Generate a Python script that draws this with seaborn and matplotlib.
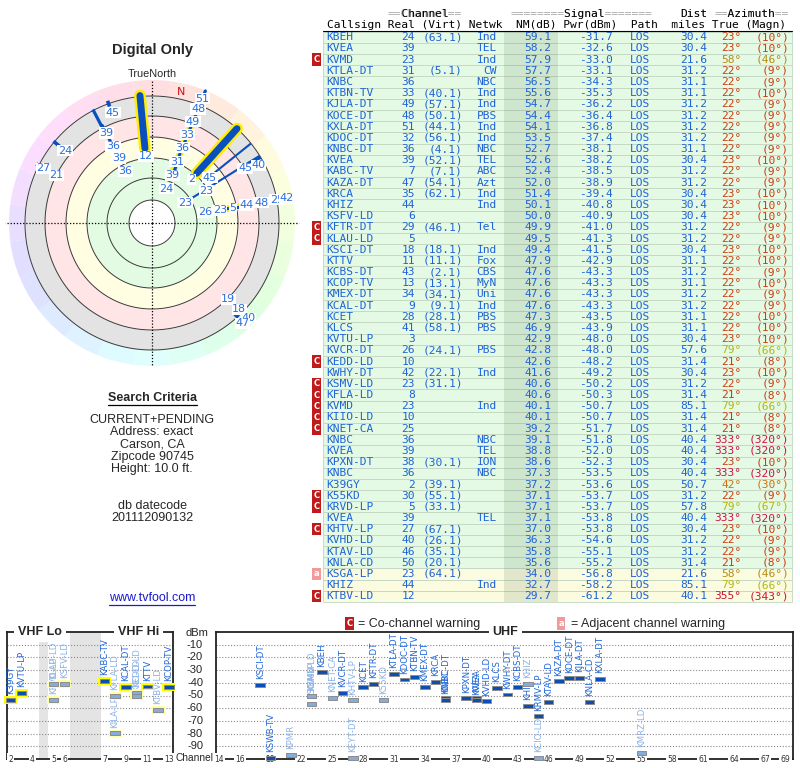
import colorsys
import numpy as np
import pandas as pd
import matplotlib
matplotlib.use("Agg")
import matplotlib.pyplot as plt
import matplotlib.transforms as mtransforms
from matplotlib.path import Path
import seaborn as sns

# ---------------- station table ----------------
callsign = ["KBEH", "KVEA", "KVMD", "KTLA-DT", "KNBC", "KTBN-TV", "KJLA-DT", "KOCE-DT", "KXLA-DT",
            "KDOC-DT", "KNBC-DT", "KVEA", "KABC-TV", "KAZA-DT", "KRCA", "KHIZ", "KSFV-LD",
            "KFTR-DT", "KLAU-LD", "KSCI-DT", "KTTV", "KCBS-DT", "KCOP-TV", "KMEX-DT", "KCAL-DT",
            "KCET", "KLCS", "KVTU-LP", "KVCR-DT", "KEDD-LD", "KWHY-DT", "KSMV-LD", "KFLA-LD",
            "KVMD", "KIIO-LD", "KNET-CA", "KNBC", "KVEA", "KPXN-DT", "KNBC", "K39GY", "K55KD",
            "KRVD-LP", "KVEA", "KHTV-LP", "KVHD-LD", "KTAV-LD", "KNLA-CD", "KSGA-LP", "KHIZ",
            "KTBV-LD"]
real_ch = [24, 39, 23, 31, 36, 33, 49, 48, 51, 32, 36, 39, 7, 47, 35, 44, 6, 29, 5, 18, 11, 43,
           13, 34, 9, 28, 41, 3, 26, 10, 42, 23, 8, 23, 10, 25, 36, 39, 38, 36, 2, 30, 5, 39,
           27, 40, 46, 50, 23, 44, 12]
virt_ch = ["63.1", "", "", "5.1", "", "40.1", "57.1", "50.1", "44.1", "56.1", "4.1", "52.1",
           "7.1", "54.1", "62.1", "", "", "46.1", "", "18.1", "11.1", "2.1", "13.1", "34.1",
           "9.1", "28.1", "58.1", "", "24.1", "", "22.1", "31.1", "", "", "", "", "", "",
           "30.1", "", "39.1", "55.1", "33.1", "", "67.1", "26.1", "35.1", "20.1", "64.1", "", ""]
netwk = ["Ind", "TEL", "Ind", "CW", "NBC", "Ind", "Ind", "PBS", "Ind", "Ind", "NBC", "TEL",
         "ABC", "Azt", "Ind", "Ind", "", "Tel", "", "Ind", "Fox", "CBS", "MyN", "Uni", "Ind",
         "PBS", "PBS", "", "PBS", "", "Ind", "", "", "Ind", "", "", "NBC", "TEL", "ION", "NBC",
         "", "", "", "TEL", "", "", "", "", "", "Ind", ""]
nm_db = [59.1, 58.2, 57.9, 57.7, 56.5, 55.6, 54.7, 54.4, 54.1, 53.5, 52.7, 52.6, 52.4, 52.0,
         51.4, 50.1, 50.0, 49.9, 49.5, 49.4, 47.9, 47.6, 47.6, 47.6, 47.6, 47.3, 46.9, 42.9,
         42.8, 42.6, 41.6, 40.6, 40.6, 40.1, 40.1, 39.2, 39.1, 38.8, 38.6, 37.3, 37.2, 37.1,
         37.1, 37.1, 37.0, 36.3, 35.8, 35.6, 34.0, 32.7, 29.7]
pwr_dbm = [-31.7, -32.6, -33.0, -33.1, -34.3, -35.3, -36.2, -36.4, -36.8, -37.4, -38.1, -38.2,
           -38.5, -38.9, -39.4, -40.8, -40.9, -41.0, -41.3, -41.5, -42.9, -43.3, -43.3, -43.3,
           -43.3, -43.5, -43.9, -48.0, -48.0, -48.2, -49.2, -50.2, -50.3, -50.7, -50.7, -51.7,
           -51.8, -52.0, -52.3, -53.5, -53.6, -53.7, -53.7, -53.8, -53.8, -54.6, -55.1, -55.2,
           -56.8, -58.2, -61.2]
dist_mi = [30.4, 30.4, 21.6, 31.2, 31.1, 31.1, 31.2, 31.2, 31.2, 31.2, 31.1, 30.4, 31.2, 31.2,
           30.4, 30.4, 30.4, 31.2, 31.2, 30.4, 31.1, 31.2, 31.1, 31.2, 31.2, 31.1, 31.1, 30.4,
           57.6, 31.4, 30.4, 31.2, 31.4, 85.1, 31.4, 31.4, 40.4, 40.4, 30.4, 40.4, 50.7, 31.2,
           57.8, 40.4, 30.4, 31.2, 31.2, 31.4, 21.6, 85.1, 40.1]
az_true = [23, 23, 58, 22, 22, 22, 22, 22, 22, 22, 22, 23, 22, 22, 23, 23, 23, 22, 22, 23, 22,
           22, 22, 22, 22, 22, 22, 23, 79, 21, 23, 22, 21, 79, 21, 21, 333, 333, 23, 333, 42,
           22, 79, 333, 23, 22, 22, 21, 58, 79, 355]
az_magn = [10, 10, 46, 9, 9, 10, 9, 9, 9, 9, 9, 10, 9, 9, 10, 10, 10, 9, 9, 10, 10, 9, 10, 9,
           9, 10, 10, 10, 66, 8, 10, 9, 8, 66, 8, 8, 320, 320, 10, 320, 30, 9, 67, 320, 10, 9,
           9, 8, 46, 66, 343]
warning = ["", "", "C", "", "", "", "", "", "", "", "", "", "", "", "", "", "", "C", "C", "",
           "", "", "", "", "", "", "", "", "", "C", "", "C", "C", "C", "C", "C", "", "", "", "",
           "", "C", "C", "", "C", "", "", "", "a", "", "C"]

# ---------------- spectrum (VHF / UHF) ----------------
vhf_call = ["K39GY", "KVTU-LP", "KRVD-LP", "KLAU-LD", "KSFV-LD", "KABC-TV", "KFLA-LD",
            "KILA-LP", "KCAL-DT", "KEDD-LD", "KIIO-LD", "KTTV", "KTBV-LD", "KCOP-TV"]
vhf_ch = [2, 3, 5, 5, 6, 7, 8, 8, 9, 10, 10, 11, 12, 13]
vhf_dbm = [-53.6, -48.0, -53.7, -41.3, -40.9, -38.5, -50.3, -79.8, -43.3, -48.2, -50.7, -42.9,
           -61.2, -43.3]
vhf_faded = [0, 0, 1, 1, 1, 0, 1, 1, 0, 1, 1, 0, 1, 0]

uhf_call = ["KSCI-DT", "KSWB-TV", "KPMR", "KSGA-LP", "KSMV-LD", "KVMD", "KBEH", "KNET-CA",
            "KVCR-DT", "KHTV-LP", "KEYT-DT", "KCET", "KFTR-DT", "K55KD", "KTLA-DT", "KDOC-DT",
            "KTBN-TV", "KMEX-DT", "KRCA", "KNBC-DT", "KNBC", "KPXN-DT", "KVEA", "KVEA",
            "KVHD-LD", "KLCS", "KWHY-DT", "KCBS-DT", "KHIZ", "KHIZ", "KRMV-LP", "KCIO-LD",
            "KTAV-LD", "KAZA-DT", "KOCE-DT", "KJLA-DT", "KNLA-CD", "KXLA-DT", "KMRZ-LD"]
uhf_ch = [18, 19, 21, 23, 23, 23, 24, 25, 26, 27, 27, 28, 29, 30, 31, 32, 33, 34, 35, 36, 36,
          38, 39, 39, 40, 41, 42, 43, 44, 44, 45, 45, 46, 47, 48, 49, 50, 51, 55]
uhf_dbm = [-41.5, -99.0, -97.0, -56.8, -50.2, -50.7, -31.7, -51.7, -48.0, -53.8, -99.0, -43.5,
           -41.0, -53.7, -33.1, -37.4, -35.3, -43.3, -39.4, -51.8, -53.5, -52.3, -52.0, -53.8,
           -54.6, -43.9, -49.2, -43.3, -40.8, -58.2, -66.5, -99.0, -55.1, -38.9, -36.4, -36.2,
           -55.2, -36.8, -95.0]
uhf_faded = [0, 0, 1, 1, 1, 1, 0, 1, 0, 1, 1, 0, 0, 1, 0, 0, 0, 0, 0, 0, 0, 0, 0, 0, 0, 0, 0,
             0, 1, 0, 0, 1, 0, 0, 0, 0, 0, 0, 1]

vhf_ticks = [2, 4, 5, 6, 7, 9, 11, 13]
uhf_ticks = [14, 16, 19, 22, 25, 28, 31, 34, 37, 40, 43, 46, 49, 52, 55, 58, 61, 64, 67, 69]
dbm_levels = [-10, -20, -30, -40, -50, -60, -70, -80, -90]

# ---------------- radar (azimuth plot) ----------------
radar_az = [354.6, 42.0, 22.0, 79.2, 332.5, 51.2, 58.0, 58.8, 340.0, 309.7, 297.0, 137.7]
radar_r0 = [75, 67, 50, 70, 99, 80, 46, 100, 124, 118, 124, 121]
radar_r1 = [128, 127, 139, 142, 128, 127, 127, 127, 130, 128, 130, 128]
radar_kind = ["vhf", "vhf", "strip", "strip", "bar", "line", "line", "bar",
              "dot", "dot", "dot", "dot"]

radar_lbl = ["45", "39", "36", "39", "36", "24", "27", "21", "12",
             "51", "48", "49", "33", "36", "31", "39", "24",
             "2", "45", "45", "40", "23", "23",
             "26", "23", "5", "44", "48", "25", "42",
             "19", "18", "40", "47"]
radar_lbl_az = [340.5, 333, 333, 333, 333, 309.7, 296.7, 296.7, 354.9,
                22, 22, 22, 22, 22, 22, 23, 23,
                42, 52, 59.5, 61.4, 59.4, 58.4,
                78.6, 79.2, 79.8, 79.2, 79.5, 79.5, 79.6,
                135, 134.7, 134.7, 137.9]
radar_lbl_r = [117, 101, 86, 73, 58, 113, 121.7, 106.7, 67,
               134, 123, 109, 95, 81, 66, 52, 37,
               59, 73.6, 108, 121, 63.5, 38.7,
               54, 69, 82, 96, 111, 127, 137,
               108, 122.8, 135.7, 135]
radar_lbl_tick = [0, 1, 1, 1, 0, 0, 0, 0, 0,
                  1, 1, 1, 1, 1, 1, 1, 0,
                  0, 0, 0, 0, 0, 0,
                  0, 1, 1, 1, 1, 1, 0,
                  0, 0, 0, 0]
ring_r = [23, 45, 65, 86, 107, 127]
band_edges = [23, 65, 86, 107, 127]
band_colors = ["#e3fbe3", "#fffde2", "#ffe5e6", "#e3e3e3"]
wheel_r = (127, 143)
mag_north = 12.5

criteria = ["CURRENT+PENDING", "Address: exact", "Carson, CA", "Zipcode 90745",
            "Height: 10.0 ft."]
datecode = ["db datecode", "201112090132"]

# ---------------- figure ----------------
sns.set_style("white")
plt.rcParams["font.family"] = ["DejaVu Sans"]

W, H = 800, 768
fig = plt.figure(figsize=(W / 100, H / 100), dpi=100)


def rect(x0, y0, x1, y1):
    return [x0 / W, 1 - y1 / H, (x1 - x0) / W, (y1 - y0) / H]


ov = fig.add_axes([0, 0, 1, 1])
ov.set_xlim(0, W)
ov.set_ylim(H, 0)
ov.axis("off")

SANS = "Liberation Sans"
BLUE = "#1f63d6"

# ---- table ----
MONO = dict(family="DejaVu Sans Mono", fontsize=8.1)
tx0, cw = 326.7, 6.8


def cx(i):
    return tx0 + i * cw


def az_color(a):
    if a > 180:
        h = 0.97 - (360 - a) / 360 * 0.2
    else:
        h = (0.985 + a / 360 * 0.85) % 1
    return colorsys.hsv_to_rgb(h, 0.9, 0.8 if a < 50 or a > 180 else 0.72)


row_y = 37.3 + np.arange(len(callsign)) * 11.18
row_bg = ["#fbfbe0" if v < 35 else "#e4fae4" for v in nm_db]
ov.barh(row_y, 469, left=323, height=11.18, color=row_bg, edgecolor="#c2d6c2",
        linewidth=0.6, zorder=1)
ov.barh(row_y, 54, left=504, height=11.18, color="#3c5c3c", alpha=0.13, linewidth=0, zorder=1.5)

for i, y in enumerate(row_y):
    ov.text(cx(0), y, callsign[i], ha="left", va="center", color=BLUE, **MONO)
    ov.text(cx(13), y, str(real_ch[i]), ha="right", va="center", color=BLUE, **MONO)
    if virt_ch[i]:
        ov.text(cx(20), y, f"({virt_ch[i]})", ha="right", va="center", color=BLUE, **MONO)
    if netwk[i]:
        ov.text(cx(25), y, netwk[i], ha="right", va="center", color=BLUE, **MONO)
    ov.text(cx(33), y, f"{nm_db[i]:.1f}", ha="right", va="center", color=BLUE, **MONO)
    ov.text(cx(42), y, f"{pwr_dbm[i]:.1f}", ha="right", va="center", color=BLUE, **MONO)
    ov.text(cx(44.6), y, "LOS", ha="left", va="center", color=BLUE, **MONO)
    ov.text(cx(56), y, f"{dist_mi[i]:.1f}", ha="right", va="center", color=BLUE, **MONO)
    col = az_color(az_true[i])
    ov.text(cx(61), y, f"{az_true[i]}°", ha="right", va="center", color=col, **MONO)
    ov.text(cx(68), y, f"({az_magn[i]}°)", ha="right", va="center", color=col, **MONO)
    if warning[i]:
        fc = "#c01a1a" if warning[i] == "C" else "#f29a9a"
        ov.text(316.5, y, warning[i], ha="center", va="center", color="white", fontsize=6,
                fontweight="bold", bbox=dict(boxstyle="square,pad=0.2", fc=fc, ec="none"))

head1 = [(9, "==Channel=="), (27, "========Signal======="), (52, "Dist"), (57, "==Azimuth==")]
for i, s in head1:
    ov.text(cx(i), 14, s, ha="left", va="center", color="#a8a8a8", **MONO)
    ov.text(cx(i), 14, s.replace("=", " "), ha="left", va="center", color="black", **MONO)
ov.text(cx(0), 25.5, "Callsign Real (Virt) Netwk  NM(dB) Pwr(dBm)  Path  miles True (Magn)",
        ha="left", va="center", color="black", **MONO)
ov.plot([323, 792], [31.3, 31.3], color="black", lw=0.8)

# ---- left text ----
ov.text(152, 50, "Digital Only", ha="center", va="center", fontsize=10.5, fontweight="bold",
        family=SANS)
ov.text(152, 74, "TrueNorth", ha="center", va="center", fontsize=7.8, family=SANS)
t_sc = ov.text(152, 398, "Search Criteria", ha="center", va="center", fontsize=9,
               fontweight="bold", family=SANS)
for k, s in enumerate(criteria):
    ov.text(152, 420 + 12.2 * k, s, ha="center", va="center", fontsize=9, family=SANS)
for k, s in enumerate(datecode):
    ov.text(152, 506 + 12.2 * k, s, ha="center", va="center", fontsize=9, family=SANS)
t_url = ov.text(152, 598, "www.tvfool.com", ha="center", va="center", fontsize=9,
                family=SANS, color="#1a1acc")

# legend above spectrum
ov.text(349.5, 623.5, "C", ha="center", va="center", color="white", fontsize=6,
        fontweight="bold", bbox=dict(boxstyle="square,pad=0.2", fc="#c01a1a", ec="none"))
ov.text(358, 624, "= Co-channel warning", ha="left", va="center", fontsize=9, family=SANS)
ov.text(561, 623.5, "a", ha="center", va="center", color="white", fontsize=6,
        fontweight="bold", bbox=dict(boxstyle="square,pad=0.2", fc="#f29a9a", ec="none"))
ov.text(571, 624, "= Adjacent channel warning", ha="left", va="center", fontsize=9, family=SANS)

# ---- radar ----
pax = fig.add_axes(rect(152 - 148, 223 - 148, 152 + 148, 223 + 148), projection="polar")
pax.set_theta_zero_location("N")
pax.set_theta_direction(-1)
pax.set_ylim(0, 148)
pax.axis("off")
th = np.linspace(0, 2 * np.pi, 361)
for r0, r1, c in zip(band_edges[:-1], band_edges[1:], band_colors):
    pax.fill_between(th, r0, r1, color=c, lw=0, zorder=1)
n_w = 24
w_az = np.arange(n_w) * 360 / n_w
w_col = [colorsys.hsv_to_rgb((a / 360 - 0.02) % 1, 0.13, 1.0) for a in w_az]
pax.bar(np.deg2rad(w_az), wheel_r[1] - wheel_r[0], width=2 * np.pi / n_w, bottom=wheel_r[0],
        color=w_col, linewidth=0, zorder=1)
for r in ring_r:
    pax.plot(th, np.full_like(th, r), color="#3a3a3a", lw=0.7, zorder=2)
for a, rr in [(0, 143), (180, 143), (90, 147), (270, 147)]:
    pax.plot([np.deg2rad(a)] * 2, [0, rr], color="black", lw=0.9, ls=(0, (1, 1.5)), zorder=2.5)

DARK = "#0a4fbf"
for a, r0, r1, k in zip(radar_az, radar_r0, radar_r1, radar_kind):
    t = [np.deg2rad(a)] * 2
    if k == "vhf":
        pax.plot(t, [r0, r1], color="#ffee00", lw=8.5, solid_capstyle="round", zorder=3)
        pax.plot(t, [r0, r1], color=DARK, lw=5, solid_capstyle="round", zorder=3.5)
    elif k == "strip":
        pax.plot(t, [r0, r1], color="#ffee00", lw=4.8, solid_capstyle="butt", zorder=3)
    elif k == "bar":
        pax.plot(t, [r0, r1], color=DARK, lw=2.3, solid_capstyle="butt", zorder=3.5)
    elif k == "line":
        pax.plot(t, [r0, r1], color=DARK, lw=1.5, solid_capstyle="butt", zorder=3.5)
    else:
        pax.plot(t, [r0, r1], color=DARK, lw=2.6, solid_capstyle="butt", zorder=3.5)

for s, a, r, tk in zip(radar_lbl, radar_lbl_az, radar_lbl_r, radar_lbl_tick):
    if tk:
        pax.plot([np.deg2rad(a)] * 2, [r + 5, r + 8.5], color=DARK, lw=2.2, zorder=3.6)
    pax.text(np.deg2rad(a), r, s, ha="center", va="center", fontsize=8, color="#2b6edb",
             zorder=5, bbox=dict(boxstyle="square,pad=0.05", fc="white", ec="none"))
pax.text(np.deg2rad(mag_north), 134, "N", ha="center", va="center", fontsize=8,
         color="#d01010", zorder=5)

# ---- spectrum panels ----
DASH = Path([(-0.5, -0.21), (0.5, -0.21), (0.5, 0.21), (-0.5, 0.21), (-0.5, -0.21)], closed=True)
GLOW = Path([(-0.5, -0.29), (0.5, -0.29), (0.5, 0.29), (-0.5, 0.29), (-0.5, -0.29)], closed=True)


def vhf_pos(ch):
    if ch <= 4:
        return ch - 2
    if ch <= 6:
        return ch - 1
    return ch + 1.7


def spectrum(ax, pos, dbm, faded, names, glow):
    df = pd.DataFrame({"x": pos, "y": dbm,
                       "kind": ["pale" if f else "dark" for f in faded]})
    if glow:
        sns.scatterplot(data=df, x="x", y="y", hue="kind",
                        palette={"dark": "#ffff00", "pale": "#ffffa6"}, marker=GLOW, s=88,
                        linewidth=0, legend=False, ax=ax, zorder=6.5, clip_on=False)
    sns.scatterplot(data=df, x="x", y="y", hue="kind",
                    palette={"dark": "#0b4fb4", "pale": "#86acdc"}, marker=DASH, s=46,
                    edgecolor="#8c8c8c", linewidth=0.7, legend=False, ax=ax, zorder=7,
                    clip_on=False)
    for x, y, n, f in zip(pos, dbm, names, faded):
        ax.text(x, y + 4.5, n, rotation=90, ha="center", va="bottom", fontsize=6.2,
                color="#8cb2e6" if f else "#1f66d8", zorder=5, clip_on=False)
    ax.set_ylim(-100, 0)
    for lv in dbm_levels:
        ax.axhline(lv, color="#8a8a8a", lw=0.8, ls=(0, (1, 1.6)), zorder=1)
    ax.set_xticks([])
    ax.set_yticks([])
    ax.set_xlabel("")
    ax.set_ylabel("")
    ax.patch.set_visible(False)
    for sp in ax.spines.values():
        sp.set_color("#222222")
        sp.set_linewidth(1.3)


ax_v = fig.add_axes(rect(6.7, 632, 173, 759))
spectrum(ax_v, [vhf_pos(c) for c in vhf_ch], vhf_dbm, vhf_faded, vhf_call, True)
ax_v.set_xlim(-0.38, 15.09)
ax_v.axvspan(2.6, 3.5, color="#e4e4e4", lw=0, zorder=0.5)
ax_v.axvspan(5.5, 8.4, color="#e4e4e4", lw=0, zorder=0.5)
for c in vhf_ticks:
    ax_v.text(vhf_pos(c), -100, str(c), ha="center", va="center", fontsize=5.5, color="#333333",
              bbox=dict(boxstyle="square,pad=0.15", fc="white", ec="none"), zorder=6,
              clip_on=False)
for x, s in [(2.72, "VHF Lo"), (11.85, "VHF Hi")]:
    ax_v.text(x, 0, s, ha="center", va="center", fontsize=9, fontweight="bold", family=SANS,
              bbox=dict(boxstyle="square,pad=0.3", fc="white", ec="none"), zorder=8,
              clip_on=False)

ax_u = fig.add_axes(rect(216, 632, 793, 759))
spectrum(ax_u, uhf_ch, uhf_dbm, uhf_faded, uhf_call, False)
ax_u.set_xlim(13.71, 69.73)
for c in uhf_ticks:
    ax_u.text(c, -100, str(c), ha="center", va="center", fontsize=5.5, color="#333333",
              bbox=dict(boxstyle="square,pad=0.15", fc="white", ec="none"), zorder=6,
              clip_on=False)
ax_u.text(41.8, 0, "UHF", ha="center", va="center", fontsize=9, fontweight="bold",
          family=SANS, bbox=dict(boxstyle="square,pad=0.3", fc="white", ec="none"), zorder=8,
          clip_on=False)

# dBm scale between the two panels
blend = mtransforms.blended_transform_factory(ov.transData, ax_v.transData)
for lv in dbm_levels:
    ax_v.text(203, lv, str(lv), transform=blend, ha="right", va="center", fontsize=8,
              family=SANS, clip_on=False)
ov.text(197, 633, "dBm", ha="center", va="center", fontsize=8, family=SANS)
ov.text(195, 758, "Channel", ha="center", va="center", fontsize=7.3, family=SANS)

# underlines
renderer = fig.canvas.get_renderer()
for t, c in [(t_sc, "black"), (t_url, "#1a1acc")]:
    bb = t.get_window_extent(renderer=renderer)
    ov.plot([bb.x0, bb.x1], [H - bb.y0 + 0.5] * 2, color=c, lw=0.9)

fig.savefig("out.png", dpi=100)
